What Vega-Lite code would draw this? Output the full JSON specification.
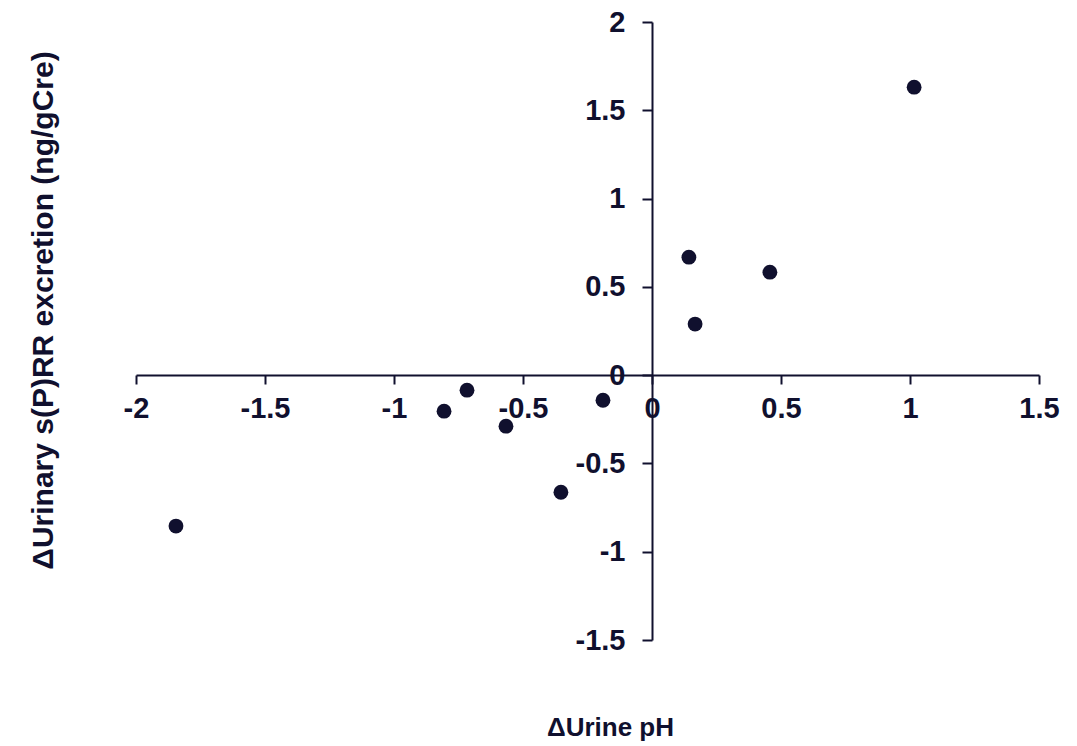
{
  "$schema": "https://vega.github.io/schema/vega-lite/v6.json",
  "width": 903,
  "height": 618,
  "autosize": {"type": "none"},
  "padding": {"left": 136, "top": 22, "right": 38, "bottom": 106},
  "background": "white",
  "config": {"view": {"stroke": null}},
  "data": {"values": [
    {"ph": -1.845, "sprr": -0.855},
    {"ph": -0.806, "sprr": -0.204},
    {"ph": -0.717, "sprr": -0.085},
    {"ph": -0.566, "sprr": -0.289},
    {"ph": -0.353, "sprr": -0.663},
    {"ph": -0.19, "sprr": -0.142},
    {"ph": 0.143, "sprr": 0.668},
    {"ph": 0.167, "sprr": 0.289},
    {"ph": 0.457, "sprr": 0.583},
    {"ph": 1.016, "sprr": 1.631}
  ]},
  "mark": {"type": "circle", "size": 220, "opacity": 1, "color": "#10102e"},
  "encoding": {
    "x": {
      "field": "ph", "type": "quantitative",
      "scale": {"domain": [-2, 1.5], "nice": false, "zero": false},
      "axis": {
        "title": "ΔUrine pH",
        "orient": "bottom",
        "offset": -265,
        "values": [-2, -1.5, -1, -0.5, 0, 0.5, 1, 1.5],
        "labelExpr": "toString(datum.value)",
        "grid": false,
        "domainColor": "#10102e", "domainWidth": 2,
        "tickColor": "#10102e", "tickWidth": 2, "tickSize": 9,
        "labelFont": "Liberation Sans", "labelFontSize": 29, "labelFontWeight": "bold", "labelColor": "#10102e",
        "labelPadding": 10, "labelFlush": false, "labelOverlap": false,
        "titleFont": "Liberation Sans", "titleFontSize": 26, "titleFontWeight": "bold", "titleColor": "#10102e",
        "titleX": 474, "titleY": 352, "titleBaseline": "middle", "titleAlign": "center", "titleAnchor": null
      }
    },
    "y": {
      "field": "sprr", "type": "quantitative",
      "scale": {"domain": [-1.5, 2], "nice": false, "zero": false},
      "axis": {
        "title": "ΔUrinary s(P)RR excretion (ng/gCre)",
        "orient": "left",
        "offset": -516,
        "values": [-1.5, -1, -0.5, 0, 0.5, 1, 1.5, 2],
        "labelExpr": "toString(datum.value)",
        "grid": false,
        "domainColor": "#10102e", "domainWidth": 2,
        "tickColor": "#10102e", "tickWidth": 2, "tickSize": 10,
        "labelFont": "Liberation Sans", "labelFontSize": 29, "labelFontWeight": "bold", "labelColor": "#10102e",
        "labelPadding": 17, "labelFlush": false, "labelOverlap": false,
        "titleFont": "Liberation Sans", "titleFontSize": 30, "titleFontWeight": "bold", "titleColor": "#10102e",
        "titleX": -609, "titleY": 288, "titleBaseline": "middle", "titleAlign": "center", "titleAngle": 270, "titleAnchor": null
      }
    }
  }
}
